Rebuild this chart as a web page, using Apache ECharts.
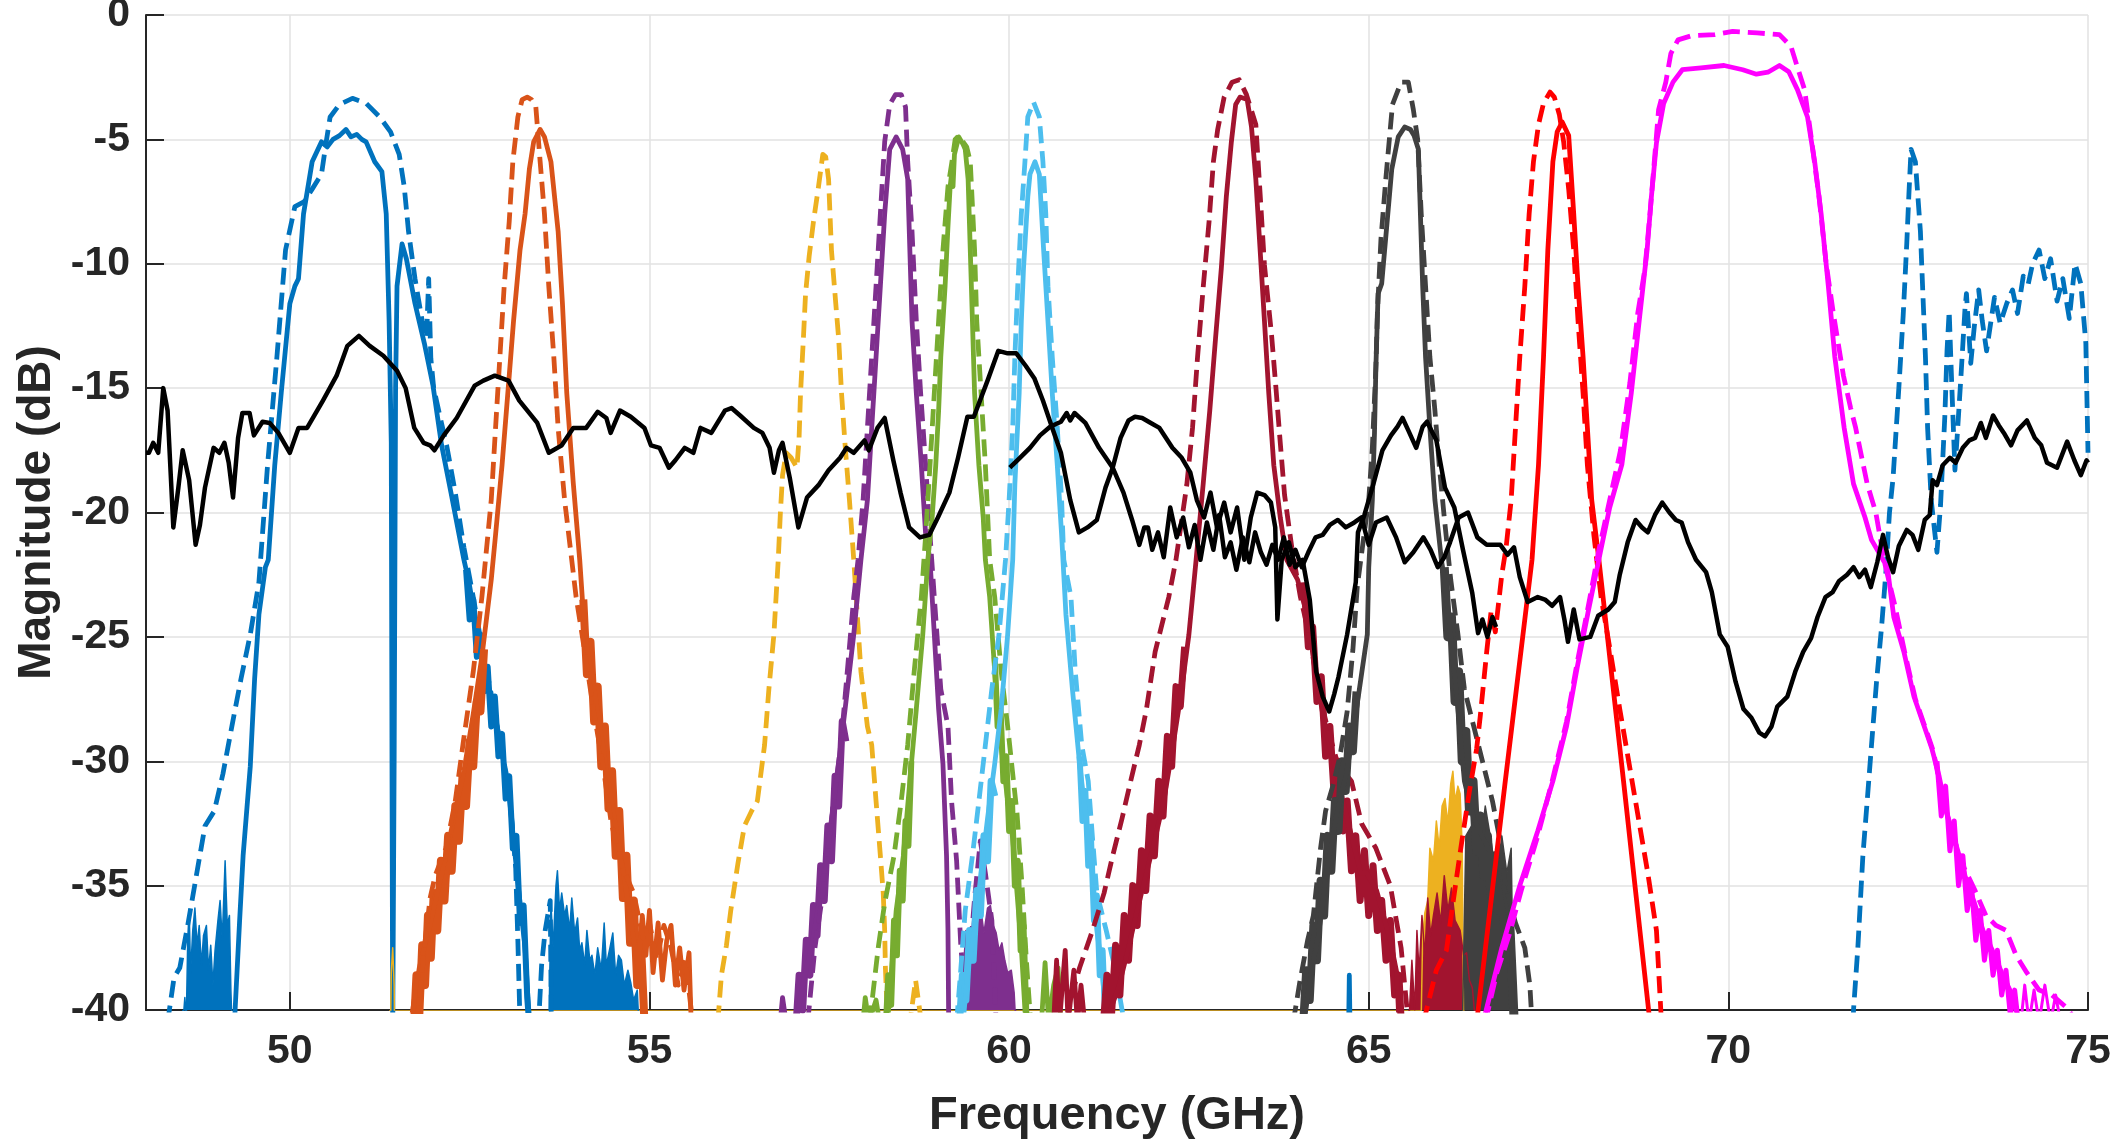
<!DOCTYPE html>
<html>
<head>
<meta charset="utf-8">
<script src="https://cdn.jsdelivr.net/npm/echarts@6/dist/echarts.min.js"></script>
<style>
  html, body { margin: 0; padding: 0; background: #ffffff; }
  #chart { width: 2126px; height: 1140px; }
</style>
</head>
<body>
<div id="chart"></div>
<script>
// Axis ticks
const xTicks = [50, 55, 60, 65, 70, 75];
const yMin = -40, yMax = 0, yStep = 5;

// ---- Filter responses: [frequency GHz, magnitude dB] ----
// Blue channel
const blueSolid = [[49.23,-40.5],[49.3,-36.5],[49.35,-33.8],[49.45,-30.2],[49.51,-26.7],[49.57,-24.1],[49.66,-22.2],[49.7,-21.9],[49.79,-18.1],[49.88,-15.2],[50.0,-11.6],[50.07,-10.9],[50.12,-10.6],[50.19,-8.0],[50.31,-5.9],[50.44,-5.1],[50.52,-5.3],[50.6,-5.0],[50.69,-4.85],[50.78,-4.6],[50.85,-4.9],[50.93,-4.8],[51.0,-5.0],[51.06,-5.1],[51.18,-5.9],[51.28,-6.3],[51.34,-8.0],[51.38,-12.3],[51.41,-17.2],[51.42,-30],[51.43,-41],[51.45,-30],[51.47,-15],[51.49,-10.9],[51.56,-9.2],[51.62,-9.8],[51.74,-11.6],[51.87,-13.2],[51.99,-14.9],[52.11,-17.3],[52.24,-19.2],[52.42,-21.9],[52.49,-22.8],[52.67,-25.8],[52.8,-27.6],[52.92,-29.1],[53.05,-31.4],[53.17,-34.9],[53.27,-37.5],[53.33,-40.5],[53.4,-45],[64.7,-45],[64.73,-38.6],[64.76,-45]];
const blueBand = [[52.45,-22.3],[52.5,-24.3],[52.55,-23.5],[52.6,-25.8],[52.65,-24.9],[52.7,-27.2],[52.75,-26.2],[52.8,-28.6],[52.85,-27.4],[52.9,-29.8],[52.95,-28.9],[53.0,-31.5],[53.05,-30.6],[53.1,-33.5],[53.15,-33.0],[53.2,-36.5],[53.25,-35.8],[53.3,-39.5],[53.34,-41]];
const blueFloorL = [[48.5,-41],[48.54,-39.5],[48.56,-40.5],[48.58,-37.2],[48.6,-36.0],[48.62,-38.5],[48.65,-36.8],[48.68,-35.9],[48.71,-37.4],[48.74,-36.6],[48.77,-38.2],[48.8,-37.0],[48.84,-36.6],[48.87,-38.4],[48.9,-37.4],[48.93,-39.0],[48.96,-37.6],[49.0,-36.4],[49.03,-35.6],[49.06,-37.2],[49.1,-34.0],[49.13,-36.6],[49.16,-36.2],[49.18,-39.2],[49.2,-41]];
const blueFloorR = [[53.6,-41],[53.63,-35.7],[53.66,-37.5],[53.7,-35.0],[53.72,-34.4],[53.75,-36.0],[53.78,-35.3],[53.82,-36.2],[53.85,-35.8],[53.89,-36.8],[53.92,-35.5],[53.96,-36.9],[54.0,-36.3],[54.03,-37.6],[54.06,-37.3],[54.1,-38.2],[54.13,-36.8],[54.17,-38.0],[54.2,-37.8],[54.24,-38.6],[54.28,-37.5],[54.33,-38.4],[54.37,-36.5],[54.4,-38.2],[54.45,-37.5],[54.49,-36.9],[54.53,-38.6],[54.57,-37.8],[54.61,-38.0],[54.65,-39.0],[54.7,-38.4],[54.74,-38.9],[54.78,-39.6],[54.83,-39.2],[54.86,-41]];
const blueDashed = [[48.3,-40.5],[48.39,-38.7],[48.47,-38.3],[48.58,-36.6],[48.7,-34.6],[48.82,-32.6],[48.95,-32.0],[49.07,-30.5],[49.2,-28.5],[49.32,-26.7],[49.45,-24.9],[49.57,-22.8],[49.69,-18.1],[49.82,-13.75],[49.94,-9.45],[50.07,-7.7],[50.2,-7.5],[50.31,-7.0],[50.44,-6.4],[50.5,-5.2],[50.56,-4.1],[50.69,-3.6],[50.87,-3.35],[51.06,-3.55],[51.25,-4.1],[51.4,-4.7],[51.52,-5.6],[51.59,-6.9],[51.65,-8.7],[51.74,-10.6],[51.84,-12.3],[51.9,-13.0],[51.93,-10.6],[51.96,-13.8],[52.0,-15.0],[52.1,-16.3],[52.18,-17.3],[52.3,-19.2],[52.42,-21.4],[52.55,-23.4],[52.67,-25.4],[52.8,-27.3],[52.92,-29.2],[53.05,-31.1],[53.14,-34.3],[53.17,-37.2],[53.2,-40.5],[53.3,-45],[53.45,-41],[53.5,-38.2],[53.55,-36.8],[53.62,-35.6],[53.65,-45],[71.7,-45],[71.74,-40],[71.8,-37.5],[71.87,-33.8],[71.93,-31.6],[71.99,-29.35],[72.06,-26.8],[72.13,-24.6],[72.19,-22.4],[72.24,-20.0],[72.29,-18.6],[72.37,-15.0],[72.43,-12.1],[72.48,-9.2],[72.51,-7.2],[72.54,-5.4],[72.6,-5.9],[72.67,-8.7],[72.7,-10.9],[72.74,-13.75],[72.77,-16.6],[72.82,-19.5],[72.9,-21.6],[72.95,-19.7],[73.01,-16.1],[73.04,-13.5],[73.07,-11.9],[73.1,-14.4],[73.15,-18.3],[73.18,-17.0],[73.23,-14.7],[73.29,-11.8],[73.31,-11.2],[73.37,-14.0],[73.42,-12.5],[73.48,-11.05],[73.53,-12.3],[73.59,-13.5],[73.7,-11.35],[73.78,-12.4],[73.87,-11.6],[73.95,-11.05],[74.02,-12.0],[74.1,-10.5],[74.17,-10.8],[74.23,-10.0],[74.32,-9.45],[74.4,-10.6],[74.48,-9.8],[74.57,-11.5],[74.65,-10.6],[74.74,-12.2],[74.82,-10.0],[74.9,-10.8],[74.97,-13.2],[75.0,-17.6]];

// Orange channel
const orangeSolid = [[51.68,-40.5],[51.8,-38.3],[51.93,-36.8],[52.05,-35.3],[52.17,-33.8],[52.3,-32.0],[52.42,-30.4],[52.55,-28.1],[52.67,-25.8],[52.8,-22.7],[52.86,-20.9],[52.95,-18.1],[53.05,-14.5],[53.11,-12.3],[53.2,-9.45],[53.27,-8.0],[53.33,-6.2],[53.39,-5.1],[53.48,-4.6],[53.54,-4.9],[53.63,-5.9],[53.73,-8.7],[53.79,-11.6],[53.85,-15.2],[53.94,-18.8],[54.03,-21.9],[54.1,-24.9],[54.23,-27.1],[54.35,-29.35],[54.47,-31.6],[54.6,-33.8],[54.72,-36.0],[54.84,-38.3],[54.9,-36.2],[54.95,-37.8],[55.0,-36.0],[55.05,-38.5],[55.12,-36.5],[55.18,-38.8],[55.24,-37.2],[55.3,-36.6],[55.36,-39.0],[55.42,-37.5],[55.48,-39.2],[55.55,-37.7],[55.58,-40.5]];
const orangeBandL = [[51.72,-41],[51.76,-38.6],[51.8,-40.2],[51.84,-37.4],[51.88,-39.0],[51.92,-36.2],[51.96,-37.9],[52.0,-35.3],[52.05,-36.8],[52.1,-34.0],[52.15,-35.6],[52.2,-33.0],[52.25,-34.4],[52.3,-31.8],[52.35,-33.2],[52.4,-30.6],[52.45,-31.8],[52.5,-29.2],[52.55,-30.2],[52.6,-27.6],[52.65,-28.0],[52.7,-25.5]];
const orangeBandR = [[54.08,-23.5],[54.13,-26.5],[54.18,-25.2],[54.23,-28.4],[54.28,-27.0],[54.33,-30.2],[54.38,-28.6],[54.43,-31.9],[54.48,-30.4],[54.53,-33.8],[54.58,-32.0],[54.63,-35.5],[54.68,-33.8],[54.73,-37.3],[54.78,-35.6],[54.83,-39.0],[54.88,-37.2],[54.93,-40.5]];
const orangeDashed = [[51.77,-40.5],[51.87,-37.5],[51.95,-35.5],[52.02,-34.6],[52.1,-34.0],[52.17,-33.5],[52.3,-31.6],[52.42,-29.05],[52.55,-26.4],[52.67,-23.4],[52.8,-19.5],[52.86,-16.6],[52.92,-13.75],[52.98,-10.9],[53.05,-8.3],[53.1,-5.9],[53.17,-4.1],[53.23,-3.4],[53.3,-3.3],[53.36,-3.4],[53.42,-3.7],[53.48,-5.9],[53.54,-8.0],[53.6,-10.9],[53.67,-13.75],[53.73,-16.6],[53.82,-19.5],[53.98,-23.4],[54.1,-25.6],[54.23,-28.1],[54.35,-30.1],[54.47,-32.5],[54.63,-34.3],[54.78,-35.3],[54.91,-37.1],[55.0,-36.5],[55.1,-38.0],[55.2,-36.6],[55.3,-37.5],[55.4,-39.0],[55.5,-38.0],[55.6,-40.5]];

// Yellow channel
const yellowSolid = [[51.38,-45],[51.41,-38.5],[51.43,-37.5],[51.45,-39],[51.47,-45],[65.7,-45],[65.75,-37],[65.78,-36.1],[65.82,-35.6],[65.85,-33.5],[65.9,-34],[65.94,-32.4],[65.98,-33.5],[66.02,-31.8],[66.06,-31.5],[66.1,-32.5],[66.14,-30.9],[66.17,-30.4],[66.2,-31.6],[66.24,-31.0],[66.27,-31.3],[66.3,-33.5],[66.33,-45]];
const yellowDashed = [[55.95,-40.5],[56.0,-38.6],[56.07,-37.4],[56.13,-36.0],[56.23,-34.1],[56.32,-32.6],[56.42,-32.0],[56.5,-31.6],[56.6,-29.35],[56.66,-27.1],[56.73,-24.9],[56.79,-21.9],[56.82,-20.0],[56.85,-18.5],[56.9,-17.6],[56.97,-17.8],[57.05,-18.2],[57.08,-17.0],[57.1,-15.2],[57.14,-13.0],[57.17,-11.2],[57.22,-9.7],[57.28,-8.3],[57.35,-6.9],[57.41,-5.6],[57.45,-5.7],[57.49,-6.6],[57.53,-9.45],[57.59,-11.6],[57.63,-13.0],[57.67,-15.2],[57.72,-17.3],[57.78,-19.5],[57.84,-21.9],[57.94,-26.4],[58.03,-28.6],[58.09,-29.35],[58.15,-31.6],[58.21,-33.8],[58.25,-35.3],[58.27,-36.8],[58.28,-38.3],[58.31,-40.5],[58.5,-45],[58.62,-40.5],[58.7,-38.8],[58.78,-40.5]];

// Purple channel
const purpleSolid = [[56.8,-41],[56.85,-39.5],[56.9,-40.5],[57.04,-40.5],[57.13,-39.0],[57.25,-37.5],[57.38,-35.3],[57.5,-33.1],[57.6,-30.8],[57.72,-27.9],[57.84,-24.9],[57.94,-21.9],[58.03,-19.5],[58.09,-16.6],[58.15,-13.75],[58.21,-10.9],[58.27,-8.0],[58.34,-5.4],[58.43,-4.9],[58.52,-5.4],[58.59,-6.6],[58.62,-9.45],[58.65,-12.3],[58.71,-15.2],[58.78,-18.1],[58.84,-20.9],[58.9,-21.9],[58.96,-24.9],[59.02,-27.9],[59.08,-30.1],[59.13,-33.8],[59.15,-36.8],[59.16,-40.5],[59.2,-45]];
const purpleBand = [[57.03,-41],[57.08,-38.6],[57.13,-40.0],[57.18,-37.2],[57.23,-38.6],[57.28,-35.8],[57.33,-37.0],[57.38,-34.2],[57.43,-35.6],[57.48,-32.6],[57.53,-34.0],[57.58,-30.6],[57.63,-31.8],[57.68,-28.4],[57.73,-29.2]];
const purpleFloor = [[59.3,-41],[59.36,-38.5],[59.4,-36.8],[59.45,-37.8],[59.5,-36.2],[59.55,-37.4],[59.6,-35.8],[59.65,-36.9],[59.7,-35.9],[59.74,-35.8],[59.78,-36.6],[59.82,-36.9],[59.86,-37.6],[59.9,-37.3],[59.94,-38.0],[59.98,-38.5],[60.03,-38.4],[60.07,-39.3],[60.1,-41]];
const purpleDashed = [[57.2,-40.5],[57.3,-37.5],[57.41,-35.3],[57.47,-33.8],[57.56,-31.6],[57.66,-29.35],[57.75,-26.4],[57.84,-23.4],[57.9,-21.9],[57.97,-19.5],[58.03,-16.6],[58.09,-13.75],[58.15,-10.9],[58.21,-8.0],[58.27,-5.1],[58.34,-3.6],[58.42,-3.2],[58.5,-3.2],[58.56,-3.7],[58.59,-5.9],[58.65,-8.7],[58.71,-12.3],[58.77,-15.2],[58.84,-18.1],[58.9,-20.9],[58.96,-23.4],[59.05,-27.1],[59.15,-28.6],[59.2,-31.6],[59.27,-34.0],[59.33,-37.5],[59.39,-39.5],[59.45,-38],[59.52,-35.5],[59.6,-33.2],[59.67,-34.5],[59.76,-36.4],[59.82,-40.5]];

// Green channel
const greenSolid = [[57.95,-41],[58.0,-39.5],[58.05,-40.5],[58.15,-39.6],[58.2,-40.5],[58.31,-40.5],[58.37,-38.3],[58.43,-36.0],[58.53,-33.8],[58.62,-30.8],[58.71,-27.9],[58.8,-24.9],[58.87,-21.9],[58.93,-20.2],[58.98,-18.1],[59.02,-15.9],[59.05,-13.75],[59.11,-10.9],[59.15,-8.5],[59.18,-6.9],[59.2,-6.4],[59.22,-6.9],[59.24,-5.6],[59.3,-4.9],[59.36,-5.2],[59.39,-5.4],[59.43,-6.6],[59.46,-9.45],[59.49,-12.3],[59.52,-15.2],[59.58,-18.1],[59.64,-20.2],[59.67,-21.9],[59.73,-23.4],[59.8,-26.4],[59.86,-28.6],[59.92,-30.1],[59.98,-31.6],[60.05,-33.1],[60.11,-35.3],[60.17,-37.5],[60.23,-40.5],[60.35,-45],[60.45,-40.5],[60.5,-38.1],[60.55,-40.5],[60.62,-39.0],[60.68,-38.3],[60.72,-40.5]];
const greenBandL = [[58.28,-41],[58.32,-38.6],[58.36,-39.8],[58.4,-36.4],[58.44,-37.8],[58.48,-34.4],[58.52,-35.6],[58.56,-32.4],[58.6,-33.4],[58.64,-30.0]];
const greenBandR = [[59.8,-25.8],[59.84,-28.6],[59.88,-27.8],[59.92,-30.8],[59.96,-29.8],[60.0,-32.8],[60.04,-31.6],[60.08,-35.0],[60.12,-34.0],[60.16,-37.6],[60.2,-36.6],[60.24,-40.2],[60.27,-41]];
const greenDashed = [[58.06,-40.5],[58.18,-37.5],[58.27,-35.7],[58.4,-33.8],[58.5,-31.6],[58.59,-29.35],[58.68,-26.4],[58.78,-23.4],[58.84,-20.9],[58.9,-18.1],[58.96,-15.2],[59.02,-12.3],[59.08,-9.45],[59.15,-6.9],[59.2,-6.0],[59.25,-5.0],[59.3,-4.85],[59.36,-5.1],[59.41,-5.3],[59.46,-5.9],[59.52,-9.45],[59.55,-12.3],[59.61,-15.2],[59.67,-18.1],[59.73,-21.9],[59.8,-23.4],[59.89,-26.4],[59.98,-28.6],[60.05,-30.5],[60.11,-32.1],[60.18,-35.0],[60.24,-38.0],[60.3,-40.5]];

// Light blue channel
const lightBlueSolid = [[59.36,-40.5],[59.43,-38.3],[59.52,-36.8],[59.61,-34.5],[59.7,-32.3],[59.8,-30.1],[59.89,-27.9],[59.98,-24.9],[60.05,-21.9],[60.08,-18.85],[60.14,-15.2],[60.17,-12.3],[60.2,-10.2],[60.26,-7.3],[60.29,-6.4],[60.36,-5.9],[60.42,-6.4],[60.48,-9.45],[60.54,-12.3],[60.6,-15.2],[60.67,-18.1],[60.73,-20.9],[60.79,-24.1],[60.88,-27.1],[60.98,-30.1],[61.07,-32.3],[61.16,-34.5],[61.22,-36.8],[61.29,-38.3],[61.35,-40.5]];
const lightBlueBandL = [[59.3,-41],[59.35,-38.6],[59.4,-39.6],[59.45,-36.8],[59.5,-38.0],[59.55,-35.2],[59.6,-36.2],[59.65,-33.0],[59.7,-34.0],[59.75,-30.8],[59.8,-31.4]];
const lightBlueBandR = [[60.98,-29.8],[61.02,-32.4],[61.06,-31.2],[61.1,-34.2],[61.14,-33.2],[61.18,-36.4],[61.22,-35.4],[61.26,-38.6],[61.3,-37.6],[61.34,-40.6]];
const lightBlueDashed = [[59.27,-40.5],[59.33,-38.3],[59.39,-36.0],[59.49,-33.8],[59.58,-31.6],[59.67,-29.35],[59.76,-27.1],[59.86,-24.9],[59.95,-21.9],[60.0,-19.5],[60.05,-16.6],[60.08,-13.75],[60.12,-10.9],[60.17,-8.0],[60.22,-5.9],[60.26,-4.1],[60.34,-3.5],[60.42,-4.1],[60.47,-5.9],[60.51,-8.0],[60.54,-10.9],[60.6,-13.75],[60.67,-16.6],[60.73,-19.5],[60.76,-21.9],[60.86,-23.4],[60.92,-26.4],[61.01,-29.35],[61.1,-30.8],[61.16,-33.1],[61.22,-35.3],[61.35,-36.8],[61.47,-38.3],[61.6,-40.5]];

// Dark red channel
const darkRedSolid = [[60.62,-40.5],[60.66,-38.0],[60.7,-40.5],[60.78,-37.6],[60.82,-40.5],[60.9,-38.4],[60.95,-40.5],[61.0,-39.0],[61.05,-40.5],[61.2,-40.5],[61.41,-40],[61.53,-39.0],[61.66,-37.5],[61.78,-36.0],[61.91,-34.5],[62.03,-33.1],[62.15,-31.6],[62.28,-29.35],[62.4,-27.1],[62.5,-24.9],[62.6,-21.9],[62.7,-18.8],[62.79,-15.9],[62.87,-13.0],[62.95,-10.2],[63.02,-7.3],[63.09,-5.1],[63.15,-3.6],[63.21,-3.3],[63.31,-3.4],[63.37,-4.5],[63.43,-6.6],[63.49,-9.45],[63.55,-12.3],[63.61,-15.2],[63.68,-18.1],[63.77,-20.2],[63.86,-21.9],[64.01,-22.7],[64.14,-24.1],[64.26,-26.4],[64.39,-28.6],[64.52,-30.1],[64.64,-31.6],[64.77,-33.1],[64.89,-34.5],[64.97,-34.5],[65.11,-35.2],[65.3,-37.2],[65.39,-38.5],[65.42,-40.5]];
const darkRedBandL = [[61.3,-41],[61.36,-38.6],[61.42,-40.4],[61.48,-37.4],[61.54,-39.4],[61.6,-36.2],[61.66,-38.0],[61.72,-35.0],[61.78,-36.6],[61.84,-33.6],[61.9,-35.2],[61.96,-32.2],[62.02,-33.8],[62.08,-30.8],[62.14,-32.2],[62.2,-29.0],[62.26,-30.2],[62.32,-27.0],[62.38,-27.8],[62.44,-25.4]];
const darkRedBandR = [[64.1,-22.8],[64.16,-25.4],[64.22,-24.6],[64.28,-27.6],[64.34,-26.6],[64.4,-29.8],[64.46,-28.6],[64.52,-31.4],[64.58,-30.0],[64.64,-32.8],[64.7,-31.6],[64.76,-34.4],[64.82,-33.0],[64.88,-35.6],[64.94,-33.6],[65.0,-36.2],[65.06,-34.2],[65.12,-36.8],[65.18,-35.6],[65.24,-38.0],[65.3,-36.4],[65.36,-39.4],[65.42,-38.6],[65.46,-41]];
const darkRedFloor = [[65.55,-41],[65.6,-38],[65.64,-40],[65.67,-36.8],[65.7,-38.5],[65.74,-36.2],[65.78,-37.8],[65.82,-35.5],[65.86,-37],[65.9,-36.2],[65.95,-35.3],[66.0,-36.5],[66.05,-34.6],[66.1,-36.0],[66.15,-35.1],[66.2,-36.4],[66.27,-36.8],[66.32,-37.8],[66.36,-37.7],[66.4,-38.8],[66.44,-39.1],[66.5,-41]];
const darkRedDashed = [[60.81,-40.5],[60.86,-39.5],[60.98,-38.3],[61.16,-36.8],[61.32,-35.3],[61.44,-33.8],[61.57,-32.3],[61.69,-30.8],[61.81,-29.35],[61.91,-27.9],[62.03,-25.6],[62.22,-23.4],[62.32,-21.9],[62.47,-18.9],[62.55,-16.6],[62.62,-13.75],[62.7,-10.9],[62.78,-8.3],[62.84,-5.9],[62.9,-4.6],[62.99,-3.3],[63.1,-2.7],[63.2,-2.6],[63.3,-3.2],[63.43,-4.4],[63.49,-7.2],[63.55,-10.05],[63.65,-12.9],[63.71,-15.0],[63.77,-17.2],[63.83,-19.3],[63.93,-21.4],[64.05,-23.4],[64.17,-24.9],[64.3,-27.1],[64.42,-28.6],[64.57,-30.1],[64.76,-30.8],[64.9,-32.5],[65.1,-33.5],[65.3,-35.0],[65.45,-37.5],[65.55,-40.5]];

// Dark grey channel
const darkGraySolid = [[64.1,-40.5],[64.2,-38.5],[64.3,-37.0],[64.41,-34.5],[64.55,-32.2],[64.69,-30.5],[64.8,-28.5],[64.9,-26.5],[64.98,-24.9],[65.0,-22.2],[65.05,-19.5],[65.08,-16.8],[65.1,-14.1],[65.13,-11.2],[65.18,-10.8],[65.25,-8.5],[65.32,-6.2],[65.41,-4.9],[65.5,-4.5],[65.58,-4.6],[65.63,-4.85],[65.69,-5.4],[65.75,-10.9],[65.79,-13.75],[65.85,-16.6],[65.92,-19.5],[66.01,-21.9],[66.07,-23.0],[66.14,-24.9],[66.24,-27.9],[66.33,-30.8],[66.46,-32.3],[66.59,-33.1],[66.72,-33.8],[66.85,-34.5],[66.98,-36.8],[67.0,-40.5]];
const darkGrayBandL = [[64.08,-41],[64.13,-38.4],[64.18,-39.6],[64.23,-36.6],[64.28,-38.0],[64.33,-34.8],[64.38,-36.2],[64.43,-33.0],[64.48,-34.4],[64.53,-31.6],[64.58,-32.8],[64.63,-30.0],[64.68,-31.2],[64.73,-28.6],[64.78,-29.6],[64.83,-27.2]];
const darkGrayBandR = [[66.05,-22.2],[66.1,-25.0],[66.15,-24.2],[66.2,-27.6],[66.25,-26.4],[66.3,-30.0],[66.35,-28.8],[66.4,-32.0],[66.45,-30.8],[66.5,-33.6],[66.55,-32.2],[66.6,-34.6],[66.65,-33.0],[66.7,-35.4],[66.75,-33.8],[66.8,-36.0],[66.85,-34.6],[66.9,-37.2],[66.95,-35.8],[67.0,-39.0],[67.03,-41]];
const darkGrayFloor = [[66.3,-41],[66.35,-33],[66.45,-32.5],[66.55,-33.5],[66.62,-31.8],[66.7,-33.2],[66.78,-34.8],[66.85,-33.0],[66.92,-34.5],[66.98,-33.5],[67.02,-41]];
const darkGrayDashed = [[63.95,-40.5],[64.04,-38.9],[64.15,-37.2],[64.23,-36.2],[64.33,-33.5],[64.4,-32.0],[64.5,-31.0],[64.6,-29.8],[64.7,-28.0],[64.78,-25.5],[64.84,-23.0],[64.93,-21.0],[65.0,-19.5],[65.05,-17.4],[65.1,-14.1],[65.12,-12.0],[65.17,-9.0],[65.24,-6.5],[65.33,-3.6],[65.45,-2.7],[65.55,-2.7],[65.62,-3.8],[65.68,-5.0],[65.73,-8.0],[65.79,-10.9],[65.85,-13.75],[65.92,-15.9],[65.98,-18.1],[66.05,-20.2],[66.14,-22.7],[66.24,-24.9],[66.33,-27.1],[66.46,-28.6],[66.59,-30.1],[66.72,-31.6],[66.82,-33.1],[66.9,-35.0],[67.04,-36.5],[67.17,-37.5],[67.24,-39.0],[67.27,-40.5]];

// Red channel
const redSolid = [[66.5,-40.5],[66.89,-31.0],[67.27,-21.9],[67.36,-18.1],[67.43,-13.75],[67.49,-9.45],[67.56,-5.9],[67.62,-4.7],[67.69,-4.3],[67.78,-4.85],[67.85,-8.0],[67.91,-10.9],[67.98,-13.75],[68.04,-16.6],[68.1,-19.5],[68.2,-21.9],[68.55,-31.0],[68.91,-40.5]];
const redDashed = [[65.76,-40.5],[65.94,-38.4],[66.08,-37.6],[66.2,-35.1],[66.29,-33.3],[66.4,-31.2],[66.5,-29.5],[66.55,-28.2],[66.64,-25.6],[66.7,-24.0],[66.76,-24.8],[66.85,-22.5],[66.91,-21.4],[66.98,-19.5],[67.04,-16.6],[67.1,-13.75],[67.17,-10.9],[67.23,-8.0],[67.29,-5.9],[67.36,-4.4],[67.43,-3.55],[67.52,-3.1],[67.58,-3.3],[67.65,-4.0],[67.71,-5.1],[67.78,-7.0],[67.85,-9.45],[67.91,-12.3],[67.98,-15.2],[68.04,-18.1],[68.13,-20.9],[68.23,-23.4],[68.36,-25.6],[68.49,-27.9],[68.62,-30.1],[68.75,-32.3],[68.88,-34.5],[69.0,-36.8],[69.07,-40.5]];

// Magenta channel
const magentaSolid = [[66.59,-40.5],[66.85,-37.5],[67.1,-35.0],[67.35,-32.8],[67.56,-30.8],[67.75,-28.6],[67.9,-26.2],[68.05,-24.0],[68.22,-21.6],[68.35,-19.8],[68.52,-18.06],[68.65,-15.2],[68.76,-12.3],[68.87,-9.45],[68.93,-7.3],[69.0,-5.14],[69.1,-3.56],[69.23,-2.7],[69.36,-2.2],[69.62,-2.13],[69.94,-2.03],[70.2,-2.2],[70.39,-2.38],[70.55,-2.3],[70.71,-2.03],[70.84,-2.28],[70.96,-3.0],[71.1,-4.1],[71.2,-5.9],[71.29,-8.0],[71.39,-10.9],[71.48,-13.75],[71.61,-16.6],[71.74,-18.85],[71.9,-20.2],[71.99,-21.1],[72.21,-22.2],[72.3,-24.2],[72.44,-25.6],[72.58,-27.4],[72.7,-28.4],[72.83,-29.5],[72.93,-30.6],[73.03,-32.0],[73.16,-33.3],[73.29,-34.6],[73.41,-35.6],[73.54,-36.8],[73.67,-37.6],[73.8,-38.5],[73.93,-39.3],[74.05,-40.5]];
const magentaBand = [[72.9,-30.0],[72.96,-32.2],[73.02,-31.0],[73.08,-33.6],[73.14,-32.4],[73.2,-35.0],[73.26,-33.8],[73.32,-36.0],[73.38,-35.0],[73.44,-37.2],[73.5,-36.0],[73.56,-38.0],[73.62,-36.8],[73.68,-38.6],[73.74,-37.6],[73.8,-39.4],[73.86,-38.4],[73.92,-40.2],[73.98,-39.2],[74.05,-41]];
const magentaFloor = [[74.05,-41],[74.12,-39.0],[74.18,-40.5],[74.25,-39.2],[74.32,-40.5],[74.4,-39.0],[74.48,-40.5],[74.55,-39.4],[74.62,-40.5]];
const magentaDashed = [[66.62,-40.5],[66.78,-38.5],[66.95,-37.0],[67.12,-35.2],[67.35,-33.0],[67.55,-30.8],[67.75,-28.4],[67.9,-26.0],[68.05,-23.8],[68.2,-21.5],[68.35,-19.5],[68.5,-17.5],[68.63,-14.8],[68.74,-12.0],[68.84,-10.2],[68.91,-8.0],[68.97,-5.9],[69.03,-3.8],[69.13,-2.7],[69.2,-1.55],[69.3,-1.0],[69.49,-0.83],[69.81,-0.79],[70.06,-0.66],[70.4,-0.72],[70.71,-0.79],[70.87,-1.26],[70.96,-2.1],[71.06,-3.0],[71.16,-5.1],[71.26,-7.3],[71.36,-10.0],[71.46,-12.0],[71.6,-14.5],[71.7,-15.8],[71.77,-16.6],[71.93,-18.85],[72.05,-20.0],[72.17,-22.0],[72.32,-23.8],[72.45,-25.6],[72.6,-27.5],[72.72,-28.5],[72.85,-29.6],[72.98,-31.5],[73.12,-33.0],[73.28,-34.3],[73.43,-35.2],[73.58,-36.2],[73.72,-36.6],[73.86,-36.8],[74.0,-37.8],[74.15,-38.5],[74.32,-39.2],[74.5,-39.4],[74.7,-39.9],[74.85,-40.5]];

// Black reference traces
const blackA = [[48.0,-17.6],[48.04,-17.6],[48.1,-17.2],[48.17,-17.6],[48.24,-15.0],[48.3,-15.9],[48.38,-20.6],[48.45,-19.0],[48.51,-17.5],[48.6,-18.7],[48.69,-21.3],[48.75,-20.5],[48.82,-19.0],[48.94,-17.4],[49.02,-17.6],[49.09,-17.2],[49.15,-18.0],[49.21,-19.4],[49.28,-17.0],[49.34,-16.0],[49.44,-16.0],[49.5,-16.9],[49.62,-16.35],[49.72,-16.4],[49.84,-16.8],[50.0,-17.6],[50.12,-16.6],[50.24,-16.6],[50.46,-15.5],[50.65,-14.5],[50.8,-13.3],[50.96,-12.9],[51.11,-13.3],[51.3,-13.7],[51.49,-14.3],[51.61,-15.0],[51.73,-16.6],[51.86,-17.2],[51.95,-17.3],[52.01,-17.5],[52.14,-16.9],[52.32,-16.2],[52.57,-14.9],[52.69,-14.7],[52.85,-14.5],[53.04,-14.7],[53.19,-15.5],[53.44,-16.4],[53.6,-17.6],[53.78,-17.3],[53.94,-16.6],[54.12,-16.6],[54.28,-15.95],[54.4,-16.2],[54.46,-16.8],[54.59,-15.9],[54.74,-16.15],[54.93,-16.6],[55.02,-17.3],[55.14,-17.4],[55.27,-18.2],[55.36,-17.9],[55.49,-17.4],[55.61,-17.6],[55.71,-16.6],[55.86,-16.8],[56.05,-15.9],[56.14,-15.8],[56.26,-16.1],[56.45,-16.6],[56.57,-16.8],[56.67,-17.4],[56.73,-18.4],[56.8,-17.5],[56.85,-17.2],[56.95,-18.6],[57.07,-20.6],[57.19,-19.4],[57.35,-18.9],[57.49,-18.3],[57.65,-17.8],[57.74,-17.4],[57.84,-17.6],[57.99,-17.1],[58.05,-17.5],[58.17,-16.6],[58.27,-16.2],[58.39,-17.9],[58.49,-19.2],[58.61,-20.6],[58.76,-21.0],[58.89,-20.9],[59.01,-20.2],[59.17,-19.2],[59.29,-17.8],[59.42,-16.15],[59.51,-16.15],[59.7,-14.7],[59.85,-13.5],[59.98,-13.6],[60.1,-13.6],[60.23,-14.1],[60.35,-14.6],[60.47,-15.5],[60.6,-16.6],[60.72,-17.6],[60.85,-19.5],[60.97,-20.8],[61.09,-20.6],[61.22,-20.3],[61.34,-19.0],[61.44,-18.2],[61.55,-17.0],[61.66,-16.3],[61.75,-16.15],[61.85,-16.2],[61.97,-16.4],[62.09,-16.6],[62.27,-17.4],[62.4,-17.8],[62.52,-18.4],[62.61,-19.5],[62.71,-20.2],[62.8,-19.2],[62.89,-20.6],[62.99,-19.6],[63.08,-20.8],[63.17,-19.8],[63.27,-21.9],[63.36,-20.2],[63.45,-19.2],[63.55,-19.3],[63.64,-19.6],[63.7,-20.6],[63.73,-24.3],[63.79,-21.9],[63.89,-21.2],[63.98,-22.2],[64.08,-21.9],[64.18,-23.5],[64.27,-26.4],[64.36,-27.4],[64.45,-28.0],[64.52,-27.3],[64.58,-26.6],[64.7,-24.9],[64.82,-22.8],[64.85,-20.8],[64.94,-20.1],[65.07,-18.8],[65.19,-17.5],[65.31,-16.9],[65.4,-16.55],[65.47,-16.2],[65.55,-16.7],[65.66,-17.4],[65.75,-16.55],[65.81,-16.35],[65.94,-17.1],[66.06,-19.0],[66.19,-19.8],[66.31,-21.5],[66.44,-23.25],[66.52,-24.85],[66.58,-24.3],[66.65,-25.0],[66.72,-24.2],[66.77,-24.6]];
const blackB = [[60.01,-18.2],[60.15,-17.8],[60.29,-17.4],[60.43,-16.9],[60.57,-16.55],[60.72,-16.35],[60.8,-16.0],[60.85,-16.3],[60.91,-16.0],[61.06,-16.4],[61.25,-17.4],[61.44,-18.2],[61.59,-19.2],[61.71,-20.3],[61.81,-21.3],[61.88,-20.6],[61.93,-20.6],[61.99,-21.5],[62.07,-20.8],[62.15,-21.8],[62.24,-19.8],[62.33,-21.0],[62.42,-20.2],[62.5,-21.4],[62.58,-20.5],[62.66,-21.9],[62.75,-20.4],[62.84,-21.5],[62.92,-20.1],[63.0,-21.8],[63.08,-21.2],[63.16,-22.3],[63.25,-21.0],[63.34,-22.0],[63.42,-20.8],[63.5,-21.6],[63.58,-22.1],[63.66,-21.3],[63.74,-21.9],[63.82,-21.0],[63.9,-22.1],[63.98,-21.5],[64.07,-22.2],[64.16,-21.6],[64.26,-21.0],[64.36,-20.9],[64.46,-20.5],[64.57,-20.3],[64.68,-20.6],[64.8,-20.4],[64.9,-20.2],[65.0,-21.3],[65.1,-20.4],[65.25,-20.2],[65.38,-21.0],[65.5,-22.0],[65.62,-21.6],[65.76,-21.0],[65.86,-21.5],[65.96,-22.2],[66.05,-21.8],[66.13,-21.2],[66.25,-20.2],[66.38,-20.0],[66.51,-21.0],[66.64,-21.3],[66.75,-21.3],[66.83,-21.3],[66.93,-21.7],[67.02,-21.4],[67.1,-22.6],[67.21,-23.6],[67.35,-23.4],[67.45,-23.5],[67.55,-23.75],[67.66,-23.4],[67.72,-24.3],[67.77,-25.2],[67.85,-23.9],[67.93,-25.1],[68.08,-25.0],[68.19,-24.15],[68.33,-23.9],[68.42,-23.6],[68.49,-22.5],[68.6,-21.2],[68.71,-20.3],[68.8,-20.6],[68.88,-20.8],[68.98,-20.1],[69.08,-19.6],[69.18,-20.0],[69.27,-20.3],[69.35,-20.4],[69.44,-21.2],[69.55,-21.9],[69.69,-22.4],[69.77,-23.2],[69.88,-24.9],[69.99,-25.4],[70.1,-26.8],[70.21,-27.9],[70.32,-28.25],[70.43,-28.85],[70.51,-29.0],[70.6,-28.6],[70.68,-27.8],[70.82,-27.4],[70.93,-26.4],[71.04,-25.6],[71.15,-25.05],[71.24,-24.2],[71.35,-23.4],[71.45,-23.2],[71.54,-22.75],[71.65,-22.5],[71.74,-22.2],[71.82,-22.6],[71.9,-22.3],[71.98,-23.0],[72.07,-22.0],[72.15,-20.9],[72.22,-21.8],[72.29,-22.4],[72.37,-21.35],[72.48,-20.7],[72.56,-20.9],[72.64,-21.5],[72.73,-20.3],[72.8,-20.1],[72.84,-18.7],[72.9,-18.9],[72.98,-18.1],[73.08,-17.8],[73.16,-18.0],[73.26,-17.4],[73.35,-17.1],[73.43,-17.0],[73.51,-16.4],[73.58,-17.0],[73.68,-16.1],[73.76,-16.5],[73.83,-16.8],[73.93,-17.3],[74.02,-16.7],[74.15,-16.3],[74.26,-17.0],[74.35,-17.3],[74.43,-18.0],[74.57,-18.2],[74.71,-17.15],[74.81,-17.9],[74.9,-18.5],[74.98,-17.9],[75.0,-18.0]];

// ---- Styling ----
const C = {
  blue: '#0072BD', orange: '#D95319', yellow: '#EDB120', purple: '#7E2F8E',
  green: '#77AC30', lightBlue: '#4DBEEE', darkRed: '#A2142F', darkGray: '#404040',
  red: '#FF0000', magenta: '#FF00FF', black: '#000000'
};
const FONT = '"Liberation Sans", Arial, Helvetica, sans-serif';
const TEXT = '#262626';
const DASH = [17, 8];
const LW = 4.8;

function trace(data, color, kind, width) {
  const s = {
    type: 'line', data: data, symbol: 'none', showSymbol: false,
    silent: true, animation: false, clip: true, z: 2,
    lineStyle: { color: color, width: width || LW, cap: 'butt', join: 'round' }
  };
  if (kind === 'dash') s.lineStyle.type = DASH;
  if (kind === 'floor') {
    s.lineStyle.width = width || 1.5;
    s.areaStyle = { color: color, opacity: 1, origin: 'start' };
  }
  return s;
}

const series = [
  trace(blueFloorL, C.blue, 'floor'), trace(blueFloorR, C.blue, 'floor'),
  trace(blueBand, C.blue, 'band', 6), trace(blueSolid, C.blue, 'solid'), trace(blueDashed, C.blue, 'dash'),
  trace(orangeBandL, C.orange, 'band', 8), trace(orangeBandR, C.orange, 'band', 8),
  trace(orangeSolid, C.orange, 'solid'), trace(orangeDashed, C.orange, 'dash'),
  trace(yellowSolid, C.yellow, 'floor'), trace(yellowDashed, C.yellow, 'dash'),
  trace(purpleFloor, C.purple, 'floor'), trace(purpleBand, C.purple, 'band', 7),
  trace(purpleSolid, C.purple, 'solid'), trace(purpleDashed, C.purple, 'dash'),
  trace(greenBandL, C.green, 'band', 6), trace(greenBandR, C.green, 'band', 6),
  trace(greenSolid, C.green, 'solid'), trace(greenDashed, C.green, 'dash'),
  trace(lightBlueBandL, C.lightBlue, 'band', 7), trace(lightBlueBandR, C.lightBlue, 'band', 6),
  trace(lightBlueSolid, C.lightBlue, 'solid'), trace(lightBlueDashed, C.lightBlue, 'dash'),
  trace(darkRedFloor, C.darkRed, 'floor'),
  trace(darkRedBandL, C.darkRed, 'band', 7), trace(darkRedBandR, C.darkRed, 'band', 7),
  trace(darkRedSolid, C.darkRed, 'solid'), trace(darkRedDashed, C.darkRed, 'dash'),
  trace(darkGrayFloor, C.darkGray, 'floor'),
  trace(darkGrayBandL, C.darkGray, 'band', 8), trace(darkGrayBandR, C.darkGray, 'band', 9),
  trace(darkGraySolid, C.darkGray, 'solid'), trace(darkGrayDashed, C.darkGray, 'dash'),
  trace(redSolid, C.red, 'solid'), trace(redDashed, C.red, 'dash'),
  trace(magentaBand, C.magenta, 'band', 5), trace(magentaFloor, C.magenta, 'solid', 3),
  trace(magentaSolid, C.magenta, 'solid'), trace(magentaDashed, C.magenta, 'dash'),
  trace(blackA, C.black, 'solid', 4.5), trace(blackB, C.black, 'solid', 4.5)
];

const chart = echarts.init(document.getElementById('chart'), null, { renderer: 'canvas' });
chart.setOption({
  animation: false,
  backgroundColor: '#ffffff',
  grid: { left: 146, right: 38, top: 15, bottom: 130, containLabel: false, outerBoundsMode: 'none' },
  xAxis: {
    type: 'value', min: 48, max: 75,
    name: 'Frequency (GHz)', nameLocation: 'middle', nameGap: 83,
    nameTextStyle: { fontSize: 47, fontWeight: 'bold', color: TEXT, fontFamily: FONT },
    axisLine: { show: true, onZero: false, lineStyle: { color: TEXT, width: 2 } },
    axisTick: { show: true, inside: true, length: 18, customValues: xTicks, lineStyle: { color: TEXT, width: 2 } },
    axisLabel: { customValues: xTicks, fontSize: 41, fontWeight: 'bold', color: TEXT, fontFamily: FONT, margin: 21 },
    splitLine: { show: true, lineStyle: { color: '#e2e2e2', width: 1.5 } }
  },
  yAxis: {
    type: 'value', min: yMin, max: yMax, interval: yStep,
    name: 'Magnitude (dB)', nameLocation: 'middle', nameGap: 84, nameRotate: 90,
    nameTextStyle: { fontSize: 46, fontWeight: 'bold', color: TEXT, fontFamily: FONT },
    axisLine: { show: true, onZero: false, lineStyle: { color: TEXT, width: 2 } },
    axisTick: { show: true, inside: true, length: 18, lineStyle: { color: TEXT, width: 2 } },
    axisLabel: { fontSize: 41, fontWeight: 'bold', color: TEXT, fontFamily: FONT, margin: 16 },
    splitLine: { show: true, lineStyle: { color: '#e2e2e2', width: 1.5 } }
  },
  series: series
});
</script>
</body>
</html>
